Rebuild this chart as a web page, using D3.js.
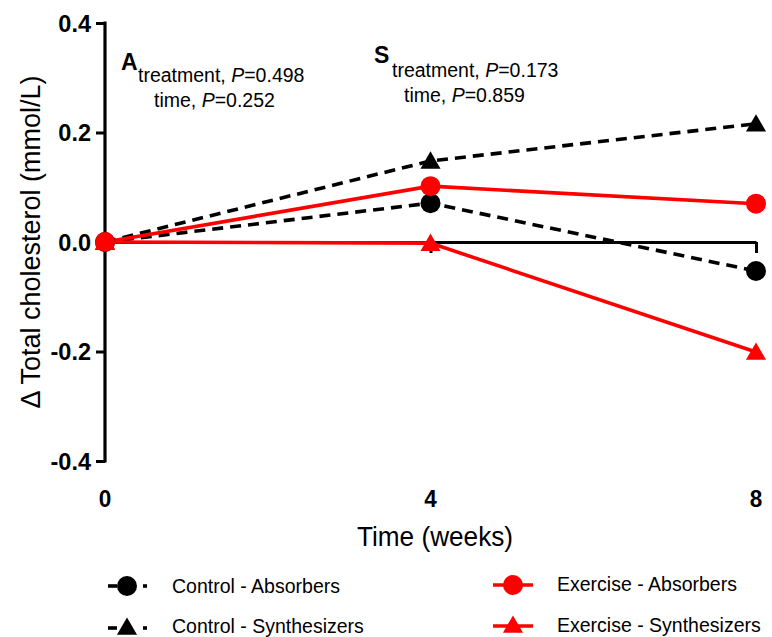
<!DOCTYPE html>
<html><head><meta charset="utf-8">
<script src="https://cdn.jsdelivr.net/npm/d3@7"></script>
<style>body{margin:0;background:#fff;} text{font-family:"Liberation Sans",Arial,sans-serif;}</style>
</head><body>
<svg id="c" width="772" height="637"></svg>
<script>
const weeks = [0, 4, 8];
const xTickLabels = ["0", "4", "8"];
const yTicks = [-0.4, -0.2, 0.0, 0.2, 0.4];
const controlAbsorbers = [0, 0.071, -0.053];
const controlSynthesizers = [0, 0.148, 0.216];
const exerciseAbsorbers = [0, 0.102, 0.070];
const exerciseSynthesizers = [0, -0.002, -0.201];
const seriesNames = ["Control - Absorbers", "Control - Synthesizers", "Exercise - Absorbers", "Exercise - Synthesizers"];

const svg = d3.select("#c");
const x = d3.scaleLinear().domain([0, 8]).range([105, 756]);
const y = d3.scaleLinear().domain([-0.4, 0.4]).range([461, 23]);

const series = [
  {name: seriesNames[0], vals: controlAbsorbers, color: "#000", dash: "11,7", shape: "circle"},
  {name: seriesNames[1], vals: controlSynthesizers, color: "#000", dash: "11,7", shape: "triangle"},
  {name: seriesNames[2], vals: exerciseAbsorbers, color: "#ff0000", dash: null, shape: "circle"},
  {name: seriesNames[3], vals: exerciseSynthesizers, color: "#ff0000", dash: null, shape: "triangle"}
];

// Y axis
const yAxis = d3.axisLeft(y).tickValues(yTicks).tickFormat(d3.format(".1f")).tickSize(9).tickSizeOuter(0);
const gy = svg.append("g").attr("transform", "translate(105,0)").call(yAxis);
gy.select(".domain").attr("stroke-width", 3.2).attr("d", `M0,${y(0.4)-1.5}V${y(-0.4)+1.5}`);
gy.selectAll(".tick line").attr("stroke-width", 3);
gy.selectAll(".tick text").attr("font-size", 23.5).attr("font-weight", "bold").attr("fill", "#000").attr("x", -14).attr("dy", "0.36em")
  .text(d => d.toFixed(1).replace("-0.0", "0.0"));

// X axis line at y=0
const xAxis = d3.axisBottom(x).tickValues(weeks).tickFormat("").tickSize(11).tickSizeOuter(0);
const gx = svg.append("g").attr("transform", `translate(0,${y(0)})`).call(xAxis);
gx.select(".domain").attr("stroke-width", 3.2);
gx.selectAll(".tick line").attr("stroke-width", 3).filter(d => d === 0).remove();

// X tick labels at bottom
svg.append("g").selectAll("text").data(weeks).join("text")
  .attr("x", d => x(d)).attr("y", 507).attr("text-anchor", "middle")
  .attr("font-size", 24.5).attr("font-weight", "bold")
  .attr("transform", d => `translate(${x(d)},0) scale(0.92,1) translate(${-x(d)},0)`)
  .text((d, i) => xTickLabels[i]);

// Axis titles
svg.append("text").attr("x", 435).attr("y", 546).attr("text-anchor", "middle").attr("font-size", 27)
  .attr("transform", "translate(435,0) scale(0.97,1) translate(-435,0)")
  .text("Time (weeks)");
svg.append("text").attr("transform", "translate(40,242) rotate(-90)").attr("text-anchor", "middle").attr("font-size", 27)
  .text("Δ Total cholesterol (mmol/L)");

// Annotations
function annot(letter, lx, ly, tx1, ty1, p1, tx2, ty2, p2) {
  svg.append("text").attr("x", lx).attr("y", ly).attr("font-size", 23).attr("font-weight", "bold").text(letter);
  const a = svg.append("text").attr("x", tx1).attr("y", ty1).attr("font-size", 19.5);
  a.append("tspan").text("treatment, ");
  a.append("tspan").attr("font-style", "italic").text("P");
  a.append("tspan").text("=" + p1);
  const b = svg.append("text").attr("x", tx2).attr("y", ty2).attr("font-size", 19.5);
  b.append("tspan").text("time, ");
  b.append("tspan").attr("font-style", "italic").text("P");
  b.append("tspan").text("=" + p2);
}
annot("A", 121, 70, 138, 82, "0.498", 154, 107, "0.252");
annot("S", 374, 63, 392, 77, "0.173", 404, 102, "0.859");

const tri = d3.symbol().type(d3.symbolTriangle).size(175);
function marker(g, s, cx, cy) {
  if (s.shape === "circle") g.append("circle").attr("cx", cx).attr("cy", cy).attr("r", 10).attr("fill", s.color);
  else g.append("path").attr("d", tri()).attr("transform", `translate(${cx},${cy+2})`).attr("fill", s.color);
}

// Lines
const line = d3.line().x((d, i) => x(weeks[i])).y(d => y(d));
const order = [0, 1, 3, 2];
order.forEach(k => {
  const s = series[k];
  svg.append("path").attr("d", line(s.vals)).attr("fill", "none").attr("stroke", s.color).attr("stroke-width", 3.6)
    .attr("stroke-dasharray", s.dash);
});
order.forEach(k => {
  const s = series[k];
  const g = svg.append("g");
  s.vals.forEach((v, i) => marker(g, s, x(weeks[i]), y(v)));
});

// Legend
const legPos = [
  {sx: 127, my: 586, tx: 172, ty: 593},
  {sx: 127, my: 628, tx: 172, ty: 633},
  {sx: 513, my: 585, tx: 557, ty: 591},
  {sx: 513, my: 626, tx: 557, ty: 632}
];
series.forEach((s, k) => {
  const p = legPos[k];
  const g = svg.append("g");
  if (s.dash) {
    g.append("line").attr("x1", p.sx - 19).attr("x2", p.sx - 10).attr("y1", p.my).attr("y2", p.my).attr("stroke", "#000").attr("stroke-width", 3.6);
    g.append("line").attr("x1", p.sx + 16).attr("x2", p.sx + 20).attr("y1", p.my).attr("y2", p.my).attr("stroke", "#000").attr("stroke-width", 3.6);
  } else {
    g.append("line").attr("x1", p.sx - 20).attr("x2", p.sx + 20).attr("y1", p.my).attr("y2", p.my).attr("stroke", s.color).attr("stroke-width", 3.6);
  }
  marker(g, s, p.sx, p.my - (s.shape === "triangle" ? 1 : 0));
  g.append("text").attr("x", p.tx).attr("y", p.ty).attr("font-size", 19.5).text(s.name);
});
</script>
</body></html>
